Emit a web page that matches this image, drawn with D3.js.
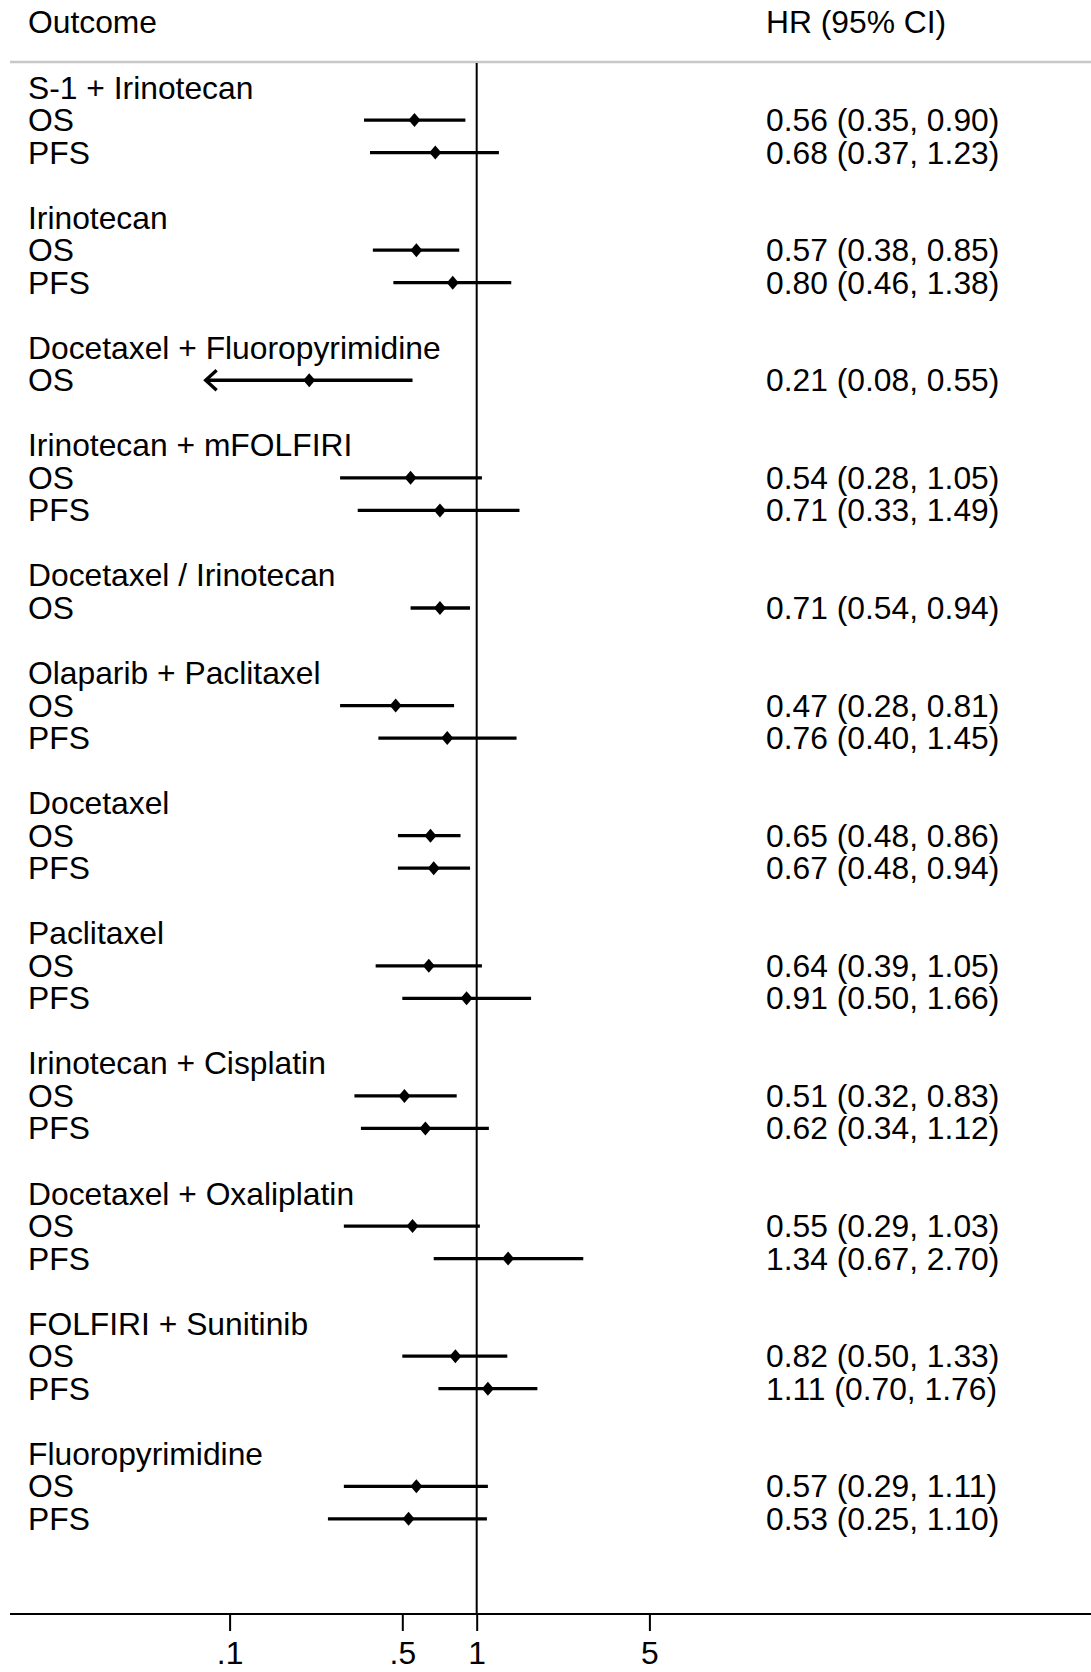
<!DOCTYPE html>
<html>
<head>
<meta charset="utf-8">
<script src="https://cdn.jsdelivr.net/npm/d3@7"></script>
<style>
  html, body { margin: 0; padding: 0; background: #fff; }
  svg { display: block; }
  text { font-family: "Liberation Sans", Arial, Helvetica, sans-serif; fill: #000; }
</style>
</head>
<body>
<svg id="chart" width="1091" height="1672"></svg>
<script>
// ---- Data ----
const groups = [
  "S-1 + Irinotecan", "Irinotecan", "Docetaxel + Fluoropyrimidine",
  "Irinotecan + mFOLFIRI", "Docetaxel / Irinotecan", "Olaparib + Paclitaxel",
  "Docetaxel", "Paclitaxel", "Irinotecan + Cisplatin",
  "Docetaxel + Oxaliplatin", "FOLFIRI + Sunitinib", "Fluoropyrimidine"
];
const rowGroup   = [0,0, 1,1, 2, 3,3, 4, 5,5, 6,6, 7,7, 8,8, 9,9, 10,10, 11,11];
const rowOutcome = ["OS","PFS","OS","PFS","OS","OS","PFS","OS","OS","PFS","OS","PFS",
                    "OS","PFS","OS","PFS","OS","PFS","OS","PFS","OS","PFS"];
const hr   = [0.56,0.68, 0.57,0.80, 0.21, 0.54,0.71, 0.71, 0.47,0.76, 0.65,0.67, 0.64,0.91, 0.51,0.62, 0.55,1.34, 0.82,1.11, 0.57,0.53];
const lo   = [0.35,0.37, 0.38,0.46, 0.08, 0.28,0.33, 0.54, 0.28,0.40, 0.48,0.48, 0.39,0.50, 0.32,0.34, 0.29,0.67, 0.50,0.70, 0.29,0.25];
const hi   = [0.90,1.23, 0.85,1.38, 0.55, 1.05,1.49, 0.94, 0.81,1.45, 0.86,0.94, 1.05,1.66, 0.83,1.12, 1.03,2.70, 1.33,1.76, 1.11,1.10];
const tickValues = [0.1, 0.5, 1, 5];
const tickLabels = [".1", ".5", "1", "5"];
const headerLeft = "Outcome";
const headerRight = "HR (95% CI)";

// ---- Layout ----
const W = 1091;
const fontSize = 31.8;
const svg = d3.select("#chart");

const x = d3.scaleLog().domain([0.1, 5]).range([229.6, 649.4]);
const y = d3.scaleLinear().domain([0, 1]).range([87.5, 120.03]);
const axisY = 1614;
const headerLineY = 62;
const labelX = 28;
const statX = 766;
const fmt = d3.format(".2f");

// Build row list: group label row, outcome rows, blank row
const rows = [];
let k = 0;
groups.forEach((g, gi) => {
  rows.push({ type: "group", label: g, k: k++ });
  rowGroup.forEach((rg, i) => {
    if (rg === gi) rows.push({ type: "est", label: rowOutcome[i], i, k: k++ });
  });
  k++; // blank spacer
});

// Header
svg.append("text").attr("x", labelX).attr("y", y(-2))
  .attr("dominant-baseline", "central").attr("font-size", fontSize).text(headerLeft);
svg.append("text").attr("x", statX).attr("y", y(-2))
  .attr("dominant-baseline", "central").attr("font-size", fontSize).text(headerRight);

svg.append("line").attr("x1", 10).attr("x2", W).attr("y1", headerLineY).attr("y2", headerLineY)
  .attr("stroke", "#c8c8c8").attr("stroke-width", 2.5);

// Null line at HR = 1
svg.append("line").attr("x1", x(1)).attr("x2", x(1)).attr("y1", headerLineY + 1).attr("y2", axisY)
  .attr("stroke", "#000").attr("stroke-width", 2);

// Labels
svg.append("g").selectAll("text").data(rows).join("text")
  .attr("x", labelX).attr("y", d => y(d.k))
  .attr("dominant-baseline", "central").attr("font-size", fontSize)
  .text(d => d.label);

const est = rows.filter(d => d.type === "est");

// Stats text
svg.append("g").selectAll("text").data(est).join("text")
  .attr("x", statX).attr("y", d => y(d.k))
  .attr("dominant-baseline", "central").attr("font-size", fontSize)
  .text(d => `${fmt(hr[d.i])} (${fmt(lo[d.i])}, ${fmt(hi[d.i])})`);

// CI lines
const ci = svg.append("g");
ci.selectAll("line").data(est).join("line")
  .attr("x1", d => x(lo[d.i])).attr("x2", d => x(hi[d.i]))
  .attr("y1", d => y(d.k)).attr("y2", d => y(d.k))
  .attr("stroke", "#000").attr("stroke-width", 3.3);

// Arrows for intervals extending below the smallest tick
const minTick = d3.min(tickValues);
ci.selectAll("path.arrow").data(est.filter(d => lo[d.i] < minTick)).join("path")
  .attr("class", "arrow")
  .attr("d", d => {
    const ax = x(lo[d.i]), ay = y(d.k);
    return `M${ax + 11},${ay - 10} L${ax},${ay} L${ax + 11},${ay + 10}`;
  })
  .attr("fill", "none").attr("stroke", "#000").attr("stroke-width", 3.3)
  .attr("stroke-linejoin", "miter");

// Point estimates (diamonds)
ci.selectAll("path.pt").data(est).join("path")
  .attr("class", "pt")
  .attr("d", d => {
    const px = x(hr[d.i]), py = y(d.k);
    return `M${px},${py - 7} L${px + 6},${py} L${px},${py + 7} L${px - 6},${py} Z`;
  })
  .attr("fill", "#000");

// X axis
svg.append("line").attr("x1", 10).attr("x2", W).attr("y1", axisY).attr("y2", axisY)
  .attr("stroke", "#000").attr("stroke-width", 2.2);

const axis = d3.axisBottom(x).tickValues(tickValues)
  .tickFormat((d, i) => tickLabels[i]).tickSize(17).tickSizeOuter(0);
const ag = svg.append("g").attr("transform", `translate(0,${axisY})`).call(axis);
ag.select(".domain").remove();
ag.selectAll(".tick line").attr("stroke", "#000").attr("stroke-width", 2);
ag.selectAll(".tick text")
  .attr("font-size", fontSize)
  .attr("font-family", "Liberation Sans, Arial, sans-serif")
  .attr("fill", "#000")
  .attr("y", 27).attr("dy", "0.71em");
</script>
</body>
</html>
